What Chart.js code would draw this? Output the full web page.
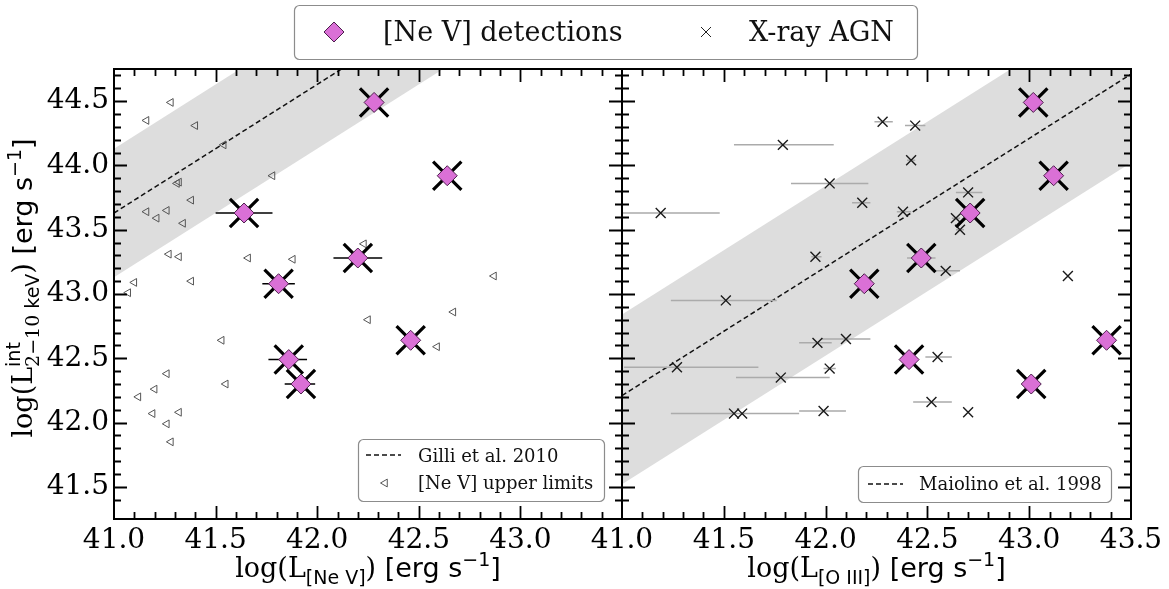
<!DOCTYPE html>
<html>
<head>
<meta charset="utf-8">
<script src="https://cdn.jsdelivr.net/npm/chart.js@4.4.1/dist/chart.umd.min.js"></script>
<style>
  html, body { margin: 0; padding: 0; background: #ffffff; }
  #wrap { position: relative; width: 1169px; height: 589px; }
  #wrap canvas { position: absolute; left: 0; top: 0; }
</style>
</head>
<body>
<div id="wrap">
  <canvas id="neV" width="1169" height="589"></canvas>
  <canvas id="oIII" width="1169" height="589"></canvas>
</div>
<script>
// ---- axis ranges and tick labels ----
const X_MIN = 41.0, X_MAX = 43.5;
const Y_MIN = 41.25, Y_MAX = 44.75;
const yTickValues = [41.5, 42.0, 42.5, 43.0, 43.5, 44.0, 44.5];
const neVTickValues = [41.0, 41.5, 42.0, 42.5, 43.0];
const oIIITickValues = [41.0, 41.5, 42.0, 42.5, 43.0, 43.5];

// ---- [Ne V] detections (intrinsic 2-10 keV luminosity shared by both panels) ----
const detLx    = [44.49, 43.92, 43.63, 43.08, 43.28, 42.64, 42.49, 42.30];
const detNeV   = [42.28, 42.64, 41.64, 41.81, 42.20, 42.46, 41.86, 41.92];
const detNeVLo = [42.28, 42.60, 41.50, 41.73, 42.08, 42.46, 41.76, 41.84];
const detNeVHi = [42.28, 42.68, 41.78, 41.89, 42.32, 42.46, 41.95, 41.99];
const detOIII  = [43.02, 43.12, 42.71, 42.19, 42.47, 43.38, 42.41, 43.01];
const detOIIILo = [43.02, 43.12, 42.71, 42.19, 42.40, 43.38, 42.41, 43.01];
const detOIIIHi = [43.02, 43.12, 42.71, 42.19, 42.54, 43.38, 42.41, 43.01];

// ---- [Ne V] upper limits ----
const ulNeV = [41.28, 41.16, 41.40, 41.54, 41.78, 41.32, 41.31, 41.38, 41.16, 41.21, 41.26,
               41.34, 41.27, 41.32, 41.66, 41.88, 41.38, 41.10, 41.07, 41.53, 42.23, 42.87,
               42.67, 42.25, 42.59, 41.26, 41.20, 41.12, 41.55, 41.32, 41.19, 41.26, 41.28];
const ulLx  = [44.49, 44.35, 44.31, 44.16, 43.92, 43.87, 43.86, 43.73, 43.64, 43.59, 43.65,
               43.55, 43.31, 43.29, 43.28, 43.27, 43.10, 43.09, 43.01, 42.64, 43.39, 43.14,
               42.86, 42.80, 42.59, 42.38, 42.26, 42.20, 42.30, 42.08, 42.07, 41.99, 41.85];

// ---- X-ray AGN with [O III] luminosities ----
const xrOIII = [42.28, 41.79, 42.02, 42.18, 41.19, 41.95, 41.51, 41.96, 42.10, 41.27, 41.78, 42.02, 41.55,
                41.59, 41.99, 42.44, 42.42, 42.70, 42.38, 42.64, 42.66, 42.59, 43.19, 42.55, 42.52, 42.70];
const xrLx   = [44.34, 44.16, 43.86, 43.71, 43.63, 43.29, 42.95, 42.62, 42.65, 42.43, 42.35, 42.42, 42.07,
                42.07, 42.09, 44.31, 44.04, 43.79, 43.64, 43.59, 43.50, 43.18, 43.14, 42.51, 42.16, 42.08];
const xrLo   = [42.24, 41.55, 41.83, 42.13, 40.95, 41.93, 41.24, 41.87, 41.98, 41.01, 41.56, 41.99, 41.24,
                41.32, 41.87, 42.39, 42.40, 42.64, 42.35, 42.62, 42.64, 42.54, 43.19, 42.49, 42.43, 42.70];
const xrHi   = [42.33, 42.04, 42.21, 42.22, 41.48, 41.98, 41.76, 42.03, 42.22, 41.67, 42.02, 42.05, 41.87,
                41.75, 42.10, 42.49, 42.44, 42.77, 42.42, 42.66, 42.68, 42.66, 43.19, 42.62, 42.62, 42.70];

// ---- reference relations, sampled at the panel edges ----
const relX = [41.0, 43.5];
const gilliMid   = [43.63, 46.13];
const gilliUpper = [44.13, 46.63];
const gilliLower = [43.13, 45.63];
const maiolinoMid   = [42.21, 44.71];
const maiolinoUpper = [42.84, 45.34];
const maiolinoLower = [41.52, 44.02];

// ---- styling ----
const SERIF = "'DejaVu Serif', serif";
const SANS = "'DejaVu Sans', sans-serif";
const ORCHID = '#da70d6';
const ORCHID_EDGE = '#4b1d4b';
const BAND = '#dddddd';

const toPoints = (xs, ys) => xs.map((x, i) => ({ x, y: ys[i] }));
function errorSegments(lo, hi, ys) {
  const pts = [];
  lo.forEach((l, i) => {
    if (hi[i] > l) pts.push({ x: l, y: ys[i] }, { x: hi[i], y: ys[i] }, { x: hi[i], y: null });
  });
  return pts;
}

function bandSets(upper, lower, mid) {
  return [
    { type: 'line', data: toPoints(relX, upper), borderWidth: 0, pointRadius: 0,
      backgroundColor: BAND, fill: '+1', order: 10 },
    { type: 'line', data: toPoints(relX, lower), borderWidth: 0, pointRadius: 0,
      fill: false, order: 10 },
    { type: 'line', data: toPoints(relX, mid), borderColor: '#111', borderWidth: 1.5,
      borderDash: [5, 3], pointRadius: 0, fill: false, order: 8 }
  ];
}

function detectionSets(xs, ys) {
  return [
    { data: toPoints(xs, ys), pointStyle: 'crossRot', pointRadius: 20, borderWidth: 3.2,
      borderColor: '#000', backgroundColor: '#000', order: 2 },
    { data: toPoints(xs, ys), pointStyle: 'rectRot', pointRadius: 10, borderWidth: 1,
      borderColor: ORCHID_EDGE, backgroundColor: ORCHID, order: 0 }
  ];
}

function xScale(ticks) {
  return {
    type: 'linear', min: X_MIN, max: X_MAX,
    afterBuildTicks: s => { s.ticks = ticks.map(v => ({ value: v })); },
    afterFit: s => { s.height = 70; },
    grid: { display: false, drawTicks: false }, border: { display: false },
    ticks: { autoSkip: false, maxRotation: 0, minRotation: 0, padding: 5, color: '#000',
             font: { family: SERIF, size: 28 }, callback: v => Number(v).toFixed(1) }
  };
}
function yScale(show) {
  return {
    type: 'linear', min: Y_MIN, max: Y_MAX, display: show,
    afterBuildTicks: s => { s.ticks = yTickValues.map(v => ({ value: v })); },
    afterFit: s => { s.width = show ? 114 : 0; },
    grid: { display: false, drawTicks: false }, border: { display: false },
    ticks: { padding: 5, color: '#000', font: { family: SERIF, size: 28 },
             callback: v => Number(v).toFixed(1) }
  };
}

// ---- drawing helpers ----
function drawFrame(chart) {
  const { ctx, chartArea: a, scales: { x, y } } = chart;
  ctx.save();
  ctx.strokeStyle = '#000';
  ctx.lineCap = 'butt';
  for (let k = Math.round(X_MIN * 10) + 1; k < Math.round(X_MAX * 10); k++) {
    const px = Math.round(x.getPixelForValue(k / 10)) + 0.5;
    const len = k % 5 === 0 ? 13 : 7;
    ctx.lineWidth = 1.8;
    ctx.beginPath();
    ctx.moveTo(px, a.bottom); ctx.lineTo(px, a.bottom - len);
    ctx.moveTo(px, a.top); ctx.lineTo(px, a.top + len);
    ctx.stroke();
  }
  for (let k = Math.round(Y_MIN * 10) + 1; k < Math.round(Y_MAX * 10); k++) {
    const py = Math.round(y.getPixelForValue(k / 10)) + 0.5;
    const len = k % 5 === 0 ? 13 : 7;
    ctx.lineWidth = 1.8;
    ctx.beginPath();
    ctx.moveTo(a.left, py); ctx.lineTo(a.left + len, py);
    ctx.moveTo(a.right, py); ctx.lineTo(a.right - len, py);
    ctx.stroke();
  }
  ctx.lineWidth = 2;
  ctx.strokeRect(a.left, a.top, a.right - a.left, a.bottom - a.top);
  ctx.restore();
}

// text runs with sub/superscripts; a run flagged "stack" shares its x with the next run
function richText(ctx, parts, cx, cy, rotate) {
  ctx.save();
  ctx.translate(cx, cy);
  if (rotate) ctx.rotate(-Math.PI / 2);
  ctx.textBaseline = 'alphabetic';
  ctx.textAlign = 'left';
  ctx.fillStyle = '#000';
  let x = 0, held = null;
  const placed = parts.map(p => {
    ctx.font = `${p.s}px ${p.f}`;
    const w = ctx.measureText(p.t).width;
    const px = held ? held.x : x;
    if (p.stack) { held = { x, w }; }
    else if (held) { x = held.x + Math.max(held.w, w); held = null; }
    else { x += w; }
    return { p, px };
  });
  const total = x;
  placed.forEach(({ p, px }) => {
    ctx.font = `${p.s}px ${p.f}`;
    ctx.fillText(p.t, px - total / 2, p.dy || 0);
  });
  ctx.restore();
}

function roundBox(ctx, x, y, w, h, r) {
  ctx.beginPath();
  ctx.moveTo(x + r, y);
  ctx.arcTo(x + w, y, x + w, y + h, r);
  ctx.arcTo(x + w, y + h, x, y + h, r);
  ctx.arcTo(x, y + h, x, y, r);
  ctx.arcTo(x, y, x + w, y, r);
  ctx.closePath();
}
function legendFrame(ctx, x, y, w, h) {
  ctx.save();
  roundBox(ctx, x + 0.5, y + 0.5, w, h, 5);
  ctx.fillStyle = 'rgba(255,255,255,0.85)';
  ctx.fill();
  ctx.strokeStyle = '#8c8c8c';
  ctx.lineWidth = 1.2;
  ctx.stroke();
  ctx.restore();
}
function dashHandle(ctx, x0, x1, y) {
  ctx.save();
  ctx.strokeStyle = '#111';
  ctx.lineWidth = 1.5;
  ctx.setLineDash([5, 3]);
  ctx.beginPath(); ctx.moveTo(x0, y); ctx.lineTo(x1, y); ctx.stroke();
  ctx.restore();
}
function leftTriangle(ctx, x, y, r) {
  ctx.save();
  ctx.strokeStyle = '#555';
  ctx.lineWidth = 1;
  ctx.beginPath();
  ctx.moveTo(x - r, y);
  ctx.lineTo(x + 0.5 * r, y - 0.866 * r);
  ctx.lineTo(x + 0.5 * r, y + 0.866 * r);
  ctx.closePath();
  ctx.stroke();
  ctx.restore();
}
function label(ctx, text, x, y, size) {
  ctx.save();
  ctx.font = `${size}px ${SERIF}`;
  ctx.fillStyle = '#111';
  ctx.textBaseline = 'alphabetic';
  ctx.textAlign = 'left';
  ctx.fillText(text, x, y);
  ctx.restore();
}

const neVTitle = [
  { t: 'log(L', f: SERIF, s: 27 },
  { t: '[Ne V]', f: SANS, s: 19, dy: 7 },
  { t: ')', f: SERIF, s: 27 },
  { t: ' [erg s', f: SANS, s: 27 },
  { t: '\u22121', f: SANS, s: 19, dy: -11 },
  { t: ']', f: SANS, s: 27 }
];
const oIIITitle = [
  { t: 'log(L', f: SERIF, s: 27 },
  { t: '[O III]', f: SANS, s: 19, dy: 7 },
  { t: ')', f: SERIF, s: 27 },
  { t: ' [erg s', f: SANS, s: 27 },
  { t: '\u22121', f: SANS, s: 19, dy: -11 },
  { t: ']', f: SANS, s: 27 }
];
const lxTitle = [
  { t: 'log(L', f: SERIF, s: 27 },
  { t: 'int', f: SANS, s: 19, dy: -12, stack: true },
  { t: '2\u221210', f: SERIF, s: 19, dy: 7 },
  { t: ' keV', f: SANS, s: 19, dy: 7 },
  { t: ')', f: SERIF, s: 27 },
  { t: ' [erg s', f: SANS, s: 27 },
  { t: '\u22121', f: SANS, s: 19, dy: -11 },
  { t: ']', f: SANS, s: 27 }
];

const neVDecor = {
  id: 'neVDecor',
  afterDraw(chart) {
    const { ctx, chartArea: a } = chart;
    drawFrame(chart);
    richText(ctx, neVTitle, (a.left + a.right) / 2, 577, false);
    richText(ctx, lxTitle, 32, 288, true);
    legendFrame(ctx, 358, 439, 246, 62);
    dashHandle(ctx, 366, 401, 455);
    label(ctx, 'Gilli et al. 2010', 418, 462, 18);
    leftTriangle(ctx, 385, 483, 4.5);
    label(ctx, '[Ne V] upper limits', 418, 489, 18);
  }
};

const oIIIDecor = {
  id: 'oIIIDecor',
  afterDraw(chart) {
    const { ctx, chartArea: a } = chart;
    drawFrame(chart);
    richText(ctx, oIIITitle, (a.left + a.right) / 2, 577, false);
    legendFrame(ctx, 858, 466, 253, 36);
    dashHandle(ctx, 868, 903, 484);
    label(ctx, 'Maiolino et al. 1998', 919, 490, 18);

    // figure legend above both panels
    legendFrame(ctx, 294, 5, 623, 54);
    ctx.save();
    ctx.beginPath();
    ctx.moveTo(324, 32); ctx.lineTo(334, 22); ctx.lineTo(344, 32); ctx.lineTo(334, 42);
    ctx.closePath();
    ctx.fillStyle = ORCHID; ctx.fill();
    ctx.strokeStyle = ORCHID_EDGE; ctx.lineWidth = 1; ctx.stroke();
    ctx.strokeStyle = '#222'; ctx.lineWidth = 1;
    ctx.beginPath();
    ctx.moveTo(701, 27); ctx.lineTo(711, 37);
    ctx.moveTo(711, 27); ctx.lineTo(701, 37);
    ctx.stroke();
    ctx.restore();
    label(ctx, '[Ne V] detections', 383, 41, 27);
    label(ctx, 'X-ray AGN', 749, 41, 27);
  }
};

const common = {
  responsive: false, animation: false, devicePixelRatio: 1, events: [],
  plugins: { legend: { display: false }, tooltip: { enabled: false } },
  elements: { line: { tension: 0 } }
};

new Chart(document.getElementById('neV'), {
  type: 'scatter',
  data: {
    datasets: [
      ...bandSets(gilliUpper, gilliLower, gilliMid),
      { type: 'line', data: errorSegments(detNeVLo, detNeVHi, detLx), borderColor: '#000',
        borderWidth: 1.5, pointRadius: 0, spanGaps: false, fill: false, order: 3 },
      { data: toPoints(ulNeV, ulLx), pointStyle: 'triangle', rotation: 270, pointRadius: 4.5,
        borderWidth: 1, borderColor: '#555', backgroundColor: 'rgba(255,255,255,0)', order: 4 },
      ...detectionSets(detNeV, detLx)
    ]
  },
  options: {
    ...common,
    layout: { padding: { top: 69, right: 547, bottom: 0, left: 0 } },
    scales: { x: xScale(neVTickValues), y: yScale(true) }
  },
  plugins: [neVDecor]
});

new Chart(document.getElementById('oIII'), {
  type: 'scatter',
  data: {
    datasets: [
      ...bandSets(maiolinoUpper, maiolinoLower, maiolinoMid),
      { type: 'line', data: errorSegments(xrLo, xrHi, xrLx), borderColor: '#ababab',
        borderWidth: 1.5, pointRadius: 0, spanGaps: false, fill: false, order: 5 },
      { type: 'line', data: errorSegments(detOIIILo, detOIIIHi, detLx), borderColor: '#ababab',
        borderWidth: 1.5, pointRadius: 0, spanGaps: false, fill: false, order: 5 },
      { data: toPoints(xrOIII, xrLx), pointStyle: 'crossRot', pointRadius: 7, borderWidth: 1.4,
        borderColor: '#1a1a1a', backgroundColor: '#1a1a1a', order: 4 },
      ...detectionSets(detOIII, detLx)
    ]
  },
  options: {
    ...common,
    layout: { padding: { top: 69, right: 38, bottom: 0, left: 622 } },
    scales: { x: xScale(oIIITickValues), y: yScale(false) }
  },
  plugins: [oIIIDecor]
});
</script>
</body>
</html>
